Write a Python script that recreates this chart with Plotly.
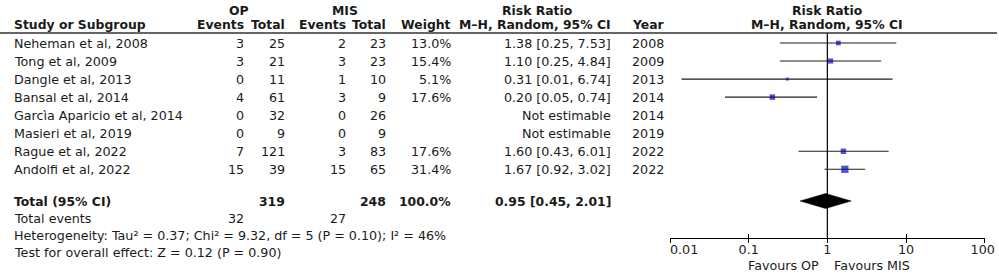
import math
import plotly.graph_objects as go

# ---------------- data ----------------
studies = ["Neheman et al, 2008", "Tong et al, 2009", "Dangle et al, 2013", "Bansal et al, 2014",
           "Garcìa Aparicio et al, 2014", "Masieri et al, 2019", "Rague et al, 2022", "Andolfi et al, 2022"]
op_events = [3, 3, 0, 4, 0, 0, 7, 15]
op_total = [25, 21, 11, 61, 32, 9, 121, 39]
mis_events = [2, 3, 1, 3, 0, 0, 3, 15]
mis_total = [23, 23, 10, 9, 26, 9, 83, 65]
weights = [13.0, 15.4, 5.1, 17.6, None, None, 17.6, 31.4]
rr = [1.38, 1.10, 0.31, 0.20, None, None, 1.60, 1.67]
ci_low = [0.25, 0.25, 0.014, 0.05, None, None, 0.43, 0.92]
ci_high = [7.53, 4.84, 6.74, 0.74, None, None, 6.01, 3.02]
years = [2008, 2009, 2013, 2014, 2014, 2019, 2022, 2022]

total_op = 319
total_mis = 248
total_weight = 100.0
pooled_rr = 0.95
pooled_low = 0.45
pooled_high = 2.01
events_op = 32
events_mis = 27
heterogeneity = "Heterogeneity: Tau² = 0.37; Chi² = 9.32, df = 5 (P = 0.10); I² = 46%"
overall = "Test for overall effect: Z = 0.12 (P = 0.90)"

tick_vals = [0.01, 0.1, 1, 10, 100]
tick_text = ["0.01", "0.1", "1", "10", "100"]
favours_left = "Favours OP"
favours_right = "Favours MIS"

# ---------------- layout constants ----------------
W, H = 999, 274
FONT = "DejaVu Sans"
FS = 12.7
FSB = 12.4
TXT = "#1a1a1a"
ROW0_PX, ROW_STEP = 43.0, 18.04


def row_of(px):
    return (px - ROW0_PX) / ROW_STEP


AX_L, AX_R = 670.0, 984.7
AXIS_PX = 237.7
HEADER_LINE_PX = 33.0

rows = list(range(len(studies)))
r_hdr1, r_hdr2 = row_of(10), row_of(24)
r_total, r_events, r_het, r_test = row_of(201), row_of(218), row_of(235), row_of(252)
r_fav = row_of(265)

# text columns (pixel x)
X_STUDY = 12
X_OPEV, X_OPTOT, X_MISEV, X_MISTOT, X_W, X_CI, X_YEAR = 246, 287, 348, 388, 453, 613, 630

ann = []


def txt(xpx, row, s, anchor="left", bold=False):
    ann.append(dict(x=xpx / W, xref="paper", y=row, yref="y", text=(f"<b>{s}</b>" if bold else s),
                    xanchor=anchor, yanchor="middle", showarrow=False,
                    font=dict(family=FONT, size=(FSB if bold else FS), color=TXT)))


# headers
txt(239, r_hdr1, "OP", "center", True)
txt(345, r_hdr1, "MIS", "center", True)
txt(537, r_hdr1, "Risk Ratio", "center", True)
txt(X_STUDY, r_hdr2, "Study or Subgroup", "left", True)
txt(X_OPEV, r_hdr2, "Events", "right", True)
txt(X_OPTOT, r_hdr2, "Total", "right", True)
txt(X_MISEV, r_hdr2, "Events", "right", True)
txt(X_MISTOT, r_hdr2, "Total", "right", True)
txt(X_W, r_hdr2, "Weight", "right", True)
txt(X_CI, r_hdr2, "M–H, Random, 95% CI", "right", True)
txt(X_YEAR, r_hdr2, "Year", "left", True)

for i, name in enumerate(studies):
    txt(X_STUDY, i, name)
    txt(X_OPEV, i, str(op_events[i]), "right")
    txt(X_OPTOT, i, str(op_total[i]), "right")
    txt(X_MISEV, i, str(mis_events[i]), "right")
    txt(X_MISTOT, i, str(mis_total[i]), "right")
    if weights[i] is not None:
        txt(X_W, i, f"{weights[i]:.1f}%", "right")
        txt(X_CI, i, f"{rr[i]:.2f} [{ci_low[i]:.2f}, {ci_high[i]:.2f}]", "right")
    else:
        txt(X_CI, i, "Not estimable", "right")
    txt(X_YEAR, i, str(years[i]), "left")

txt(X_STUDY, r_total, "Total (95% CI)", "left", True)
txt(X_OPTOT, r_total, str(total_op), "right", True)
txt(X_MISTOT, r_total, str(total_mis), "right", True)
txt(X_W, r_total, f"{total_weight:.1f}%", "right", True)
txt(X_CI, r_total, f"{pooled_rr:.2f} [{pooled_low:.2f}, {pooled_high:.2f}]", "right", True)
txt(X_STUDY, r_events, "Total events", "left")
txt(X_OPEV, r_events, str(events_op), "right")
txt(X_MISEV, r_events, str(events_mis), "right")
txt(X_STUDY, r_het, heterogeneity, "left")
txt(X_STUDY, r_test, overall, "left")

# forest header (centered on RR = 1)
for r, s in [(r_hdr1, "Risk Ratio"), (r_hdr2, "M–H, Random, 95% CI")]:
    ann.append(dict(x=0, xref="x", y=r, yref="y", text=f"<b>{s}</b>", xanchor="center", yanchor="middle",
                    showarrow=False, font=dict(family=FONT, size=FSB, color=TXT)))
ann.append(dict(x=0, xref="x", y=r_fav, yref="y", text=favours_left, xanchor="right", xshift=-6,
                yanchor="middle", showarrow=False, font=dict(family=FONT, size=FS, color=TXT)))
ann.append(dict(x=0, xref="x", y=r_fav, yref="y", text=favours_right, xanchor="left", xshift=5,
                yanchor="middle", showarrow=False, font=dict(family=FONT, size=FS, color=TXT)))

# ---------------- traces ----------------
fig = go.Figure()

# CI lines
lx, ly = [], []
for i in rows:
    if rr[i] is None:
        continue
    lx += [ci_low[i], ci_high[i], None]
    ly += [i, i, None]
fig.add_trace(go.Scatter(x=lx, y=ly, mode="lines", line=dict(color="#1e1e1e", width=1.1),
                         hoverinfo="skip", showlegend=False, cliponaxis=False))

# squares
sx = [rr[i] for i in rows if rr[i] is not None]
sy = [i for i in rows if rr[i] is not None]
ss = [1.3 * math.sqrt(weights[i]) for i in rows if rr[i] is not None]
fig.add_trace(go.Scatter(x=sx, y=sy, mode="markers",
                         marker=dict(symbol="square", size=ss, color="#0a0ab4", line=dict(width=0)),
                         showlegend=False, cliponaxis=False))

# diamond
dh = 7.5 / ROW_STEP
fig.add_trace(go.Scatter(x=[pooled_low, pooled_rr, pooled_high, pooled_rr, pooled_low],
                         y=[r_total, r_total - dh, r_total, r_total + dh, r_total],
                         mode="lines", fill="toself", fillcolor="#000000",
                         line=dict(color="#000000", width=0.5), showlegend=False, cliponaxis=False))

# line of no effect (on overlay axis so the upward tick marks get drawn)
fig.add_trace(go.Scatter(x=[1, 1], y=[row_of(HEADER_LINE_PX), row_of(AXIS_PX)], mode="lines",
                         line=dict(color="#000000", width=1.2), xaxis="x2", yaxis="y",
                         showlegend=False, cliponaxis=False, hoverinfo="skip"))

axis_pos = 1 - AXIS_PX / H
pad = "\u00a0"
tick_text_disp = [pad * 7 + tick_text[0]] + tick_text[1:-1] + [tick_text[-1] + pad]
common = dict(type="log", range=[-2, 2], domain=[AX_L / W, AX_R / W], anchor="free", position=axis_pos,
              showgrid=False, zeroline=False, fixedrange=True, automargin=False)
fig.update_layout(
    template="none",
    width=W, height=H, margin=dict(l=0, r=0, t=0, b=0, pad=0, autoexpand=False),
    paper_bgcolor="white", plot_bgcolor="rgba(0,0,0,0)",
    font=dict(family=FONT, size=FS, color=TXT),
    xaxis=dict(**common, tickvals=tick_vals, ticktext=tick_text_disp, ticks="outside", ticklen=4,
               tickcolor="#000", tickwidth=1.2, showline=True, linecolor="#000", linewidth=1.2,
               ticklabelstandoff=-4, ticklabeloverflow="allow",
               tickfont=dict(family=FONT, size=FS, color=TXT)),
    xaxis2=dict(**common, overlaying="x", tickvals=tick_vals, ticks="inside", ticklen=4, tickcolor="#000",
                tickwidth=1.2, showticklabels=False, showline=False),
    yaxis=dict(range=[row_of(H), row_of(0)], domain=[0, 1], showgrid=False, zeroline=False,
               showticklabels=False, showline=False, ticks="", fixedrange=True, automargin=False),
    annotations=ann,
    shapes=[dict(type="line", xref="paper", yref="paper", x0=0, x1=997 / W,
                 y0=1 - HEADER_LINE_PX / H, y1=1 - HEADER_LINE_PX / H,
                 line=dict(color="#333333", width=1.6))],
)

fig.write_html("out.html", config={"displayModeBar": False},
               post_script="document.body.style.margin='0';document.body.style.overflow='hidden';")
